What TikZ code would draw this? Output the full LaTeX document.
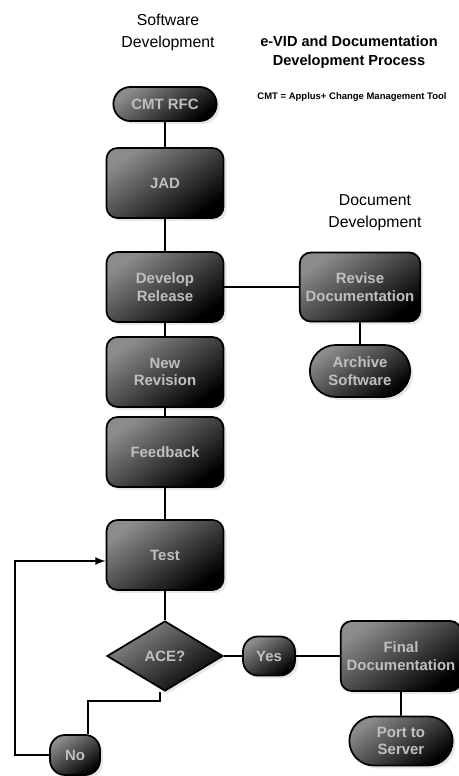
\documentclass[tikz,border=0pt]{standalone}
\usepackage{fontspec}
\setmainfont{Liberation Sans}
\usetikzlibrary{shapes.geometric,shapes.misc,shadows}
\tikzstyle{block} = [draw=black, line width=1pt, rectangle, rounded corners=0.22cm,
    top color=black!45, bottom color=black, shading angle=35,
    minimum height=1.4cm, minimum width=2.34cm, text=black!25,
    font=\fontsize{8.5}{10}\selectfont\bfseries, align=center,
    drop shadow={opacity=0.18, shadow xshift=0.06cm, shadow yshift=-0.06cm}]
\tikzstyle{pill} = [block, rounded rectangle, sharp corners, minimum height=0.7cm]
\tikzstyle{decision} = [block, diamond, sharp corners, inner sep=0pt,
    minimum width=2.32cm, minimum height=1.4cm]
\tikzstyle{answer} = [block, rounded corners=0.3cm, minimum width=1.04cm,
    minimum height=0.78cm]
\tikzstyle{title} = [align=center, font=\fontsize{9}{12.5}\selectfont]
\tikzstyle{link} = [draw, line width=1pt]

\begin{document}
\begin{tikzpicture}[auto, node distance=2cm]
    \useasboundingbox (0,0) rectangle (9.18,15.52);
    \node [title] (swtitle) at (3.36,14.88) {Software\\Development};
    \node [title, font=\fontsize{8.3}{10.8}\selectfont\bfseries] (maintitle) at (6.98,14.48)
        {e-VID and Documentation\\Development Process};
    \node [font=\fontsize{5.4}{6}\selectfont\bfseries] (note) at (7.04,13.58)
        {CMT = Applus+ Change Management Tool};
    \node [title] (doctitle) at (7.50,11.26) {Document\\Development};
    % software column
    \node [pill, minimum width=2.30cm, minimum height=0.68cm] (cmt) at (3.30,13.44) {CMT RFC};
    \node [block, below of=cmt, node distance=1.58cm] (jad) {JAD};
    \node [block, below of=jad, node distance=2.08cm] (develop) {Develop\\Release};
    \node [block, below of=develop, node distance=1.70cm] (newrev) {New\\Revision};
    \node [block, below of=newrev, node distance=1.60cm] (feedback) {Feedback};
    \node [block, below of=feedback, node distance=2.06cm] (test) {Test};
    \node [decision, below of=test, node distance=2.02cm] (ace) {ACE?};
    \node [answer, right of=ace, node distance=2.08cm] (yes) {Yes};
    \node [answer, minimum width=1.0cm, minimum height=0.8cm] (no) at (1.50,0.42) {No};
    \node [block, right of=yes, node distance=2.64cm, minimum width=2.32cm] (final) {Final\\Documentation};
    \node [pill, below of=final, node distance=1.70cm, minimum width=2.30cm,
        minimum height=0.98cm] (port) {Port to\\Server};
    % document column
    \node [block, right of=develop, node distance=3.90cm, minimum width=2.28cm,
        minimum height=1.38cm] (revise) {Revise\\Documentation};
    \node [pill, below of=revise, node distance=1.68cm, minimum width=2.24cm,
        minimum height=1.04cm] (archive) {Archive\\Software};
    \draw [link] (cmt) -- (jad);
    \draw [link] (jad) -- (develop);
    \draw [link] (develop) -- (newrev);
    \draw [link] (newrev) -- (feedback);
    \draw [link] (feedback) -- (test);
    \draw [link] (test) -- (ace);
    \draw [link] (ace) -- (yes);
    \draw [link] (yes) -- (final);
    \draw [link] (final) -- (port);
    \draw [link] (develop) -- (revise);
    \draw [link] (revise) -- (archive);
    \draw [link] ([xshift=-0.1cm]ace.south) -- ++(0,-0.18) -| ([xshift=0.26cm]no.north);
    \draw [link, ->, >=latex] (no.west) -| (0.30,4.30) -- (test.west |- 0,4.30);
\end{tikzpicture}
\end{document}
